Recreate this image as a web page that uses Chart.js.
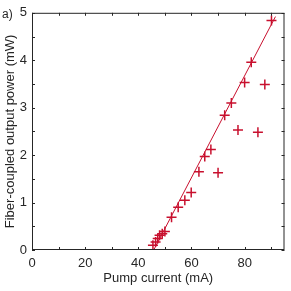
<!DOCTYPE html>
<html>
<head>
<meta charset="utf-8">
<script src="https://cdn.jsdelivr.net/npm/chart.js@4"></script>
<style>
  html, body { margin: 0; padding: 0; background: #fff; }
  #wrap { width: 291px; height: 291px; }
</style>
</head>
<body>
<div id="wrap"><canvas id="chart" width="291" height="291"></canvas></div>
<script>
// measured points
const current = [45.5, 46.5, 47.3, 48.0, 49.0, 50.0, 52.5, 55.0, 57.5, 59.9, 62.8, 65.0, 67.3, 70.0,
                 72.5, 75.0, 77.5, 80.0, 82.5, 85.0, 87.6, 90.1];
const power = [0.10, 0.17, 0.24, 0.31, 0.34, 0.39, 0.69, 0.90, 1.05, 1.21, 1.65, 1.97, 2.12, 1.63,
               2.84, 3.10, 2.53, 3.53, 3.96, 2.48, 3.49, 4.84];
// linear fit end points
const fitX = [45.8, 91.6];
const fitY = [0, 4.92];
const xTicks = [0, 20, 40, 60, 80];
const yTicks = [0, 1, 2, 3, 4, 5];

const red = '#c8102e';
const ink = '#262626';
const font = "'Liberation Sans', Arial, sans-serif";

// box, inward tick marks on all four sides, axis titles and panel label
const boxTicks = {
    id: 'boxTicks',
    afterDraw(chart) {
        const { ctx, chartArea: a, scales: { x, y } } = chart;
        ctx.save();
        ctx.strokeStyle = ink;
        ctx.lineWidth = 1;
        ctx.strokeRect(a.left + 0.5, a.top + 0.5, a.right - a.left - 1, a.bottom - a.top - 1);
        ctx.beginPath();
        for (let v = 0; v <= 95; v += 10) {
            const px = Math.round(x.getPixelForValue(v)) + 0.5;
            ctx.moveTo(px, a.bottom); ctx.lineTo(px, a.bottom - 3);
            ctx.moveTo(px, a.top); ctx.lineTo(px, a.top + 3);
        }
        for (let v = 0; v <= 5; v += 0.5) {
            const py = Math.round(y.getPixelForValue(v)) + 0.5;
            ctx.moveTo(a.left, py); ctx.lineTo(a.left + 3, py);
            ctx.moveTo(a.right, py); ctx.lineTo(a.right - 3, py);
        }
        ctx.stroke();

        ctx.fillStyle = ink;
        ctx.font = '13px ' + font;
        ctx.textAlign = 'center';
        ctx.textBaseline = 'middle';
        ctx.fillText('Pump current (mA)', (a.left + a.right) / 2, 278);
        ctx.save();
        ctx.translate(10, (a.top + a.bottom) / 2);
        ctx.rotate(-Math.PI / 2);
        ctx.fillText('Fiber-coupled output power (mW)', 0, 0);
        ctx.restore();

        ctx.font = '12px ' + font;
        ctx.textAlign = 'left';
        ctx.fillText('a)', 2, 15);
        ctx.restore();
    }
};

new Chart(document.getElementById('chart'), {
    type: 'scatter',
    data: {
        datasets: [{
            data: current.map((c, i) => ({ x: c, y: power[i] })),
            pointStyle: 'cross',
            pointRadius: 5,
            pointBorderWidth: 1.5,
            borderColor: red,
            backgroundColor: red
        }, {
            type: 'line',
            data: fitX.map((c, i) => ({ x: c, y: fitY[i] })),
            borderColor: red,
            borderWidth: 1,
            pointRadius: 0
        }]
    },
    options: {
        responsive: false,
        animation: false,
        layout: { padding: { top: 6, right: 6, left: 0, bottom: 0 } },
        plugins: { legend: { display: false }, tooltip: { enabled: false } },
        scales: {
            x: {
                type: 'linear', min: 0, max: 95,
                afterBuildTicks: s => { s.ticks = xTicks.map(v => ({ value: v })); },
                afterFit: s => { s.height = 41; },
                grid: { display: false, drawTicks: false },
                border: { display: false },
                ticks: { color: ink, font: { family: font, size: 13 }, padding: 6, maxRotation: 0 }
            },
            y: {
                type: 'linear', min: 0, max: 5,
                afterBuildTicks: s => { s.ticks = yTicks.map(v => ({ value: v })); },
                afterFit: s => { s.width = 32; },
                grid: { display: false, drawTicks: false },
                border: { display: false },
                ticks: { color: ink, font: { family: font, size: 13 }, padding: 5 }
            }
        }
    },
    plugins: [boxTicks]
});
</script>
</body>
</html>
